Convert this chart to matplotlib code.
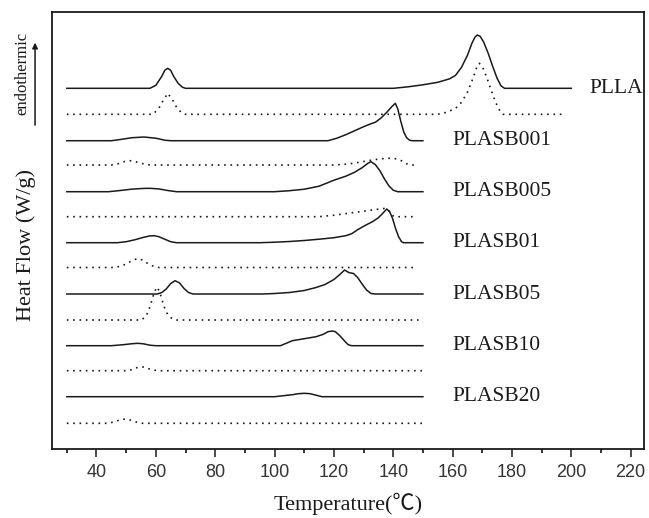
import matplotlib
matplotlib.use("Agg")
from matplotlib import pyplot as plt

# DSC traces: temperature (C) and heat flow above baseline (arb. units)
# solid = first heating, dotted = second heating
plla_T = [30, 58, 60, 62, 63, 64, 65, 66, 67.5, 69, 70, 140, 145, 150, 155, 159, 161, 163, 165,
          166.5, 167.5, 168.3, 169.3, 170.5, 172, 173.5, 175, 176.3, 177.5, 200]
plla_h = [0, 0, 0.3, 1.2, 1.8, 2.0, 1.8, 1.2, 0.5, 0.1, 0, 0, 0.15, 0.35, 0.6, 0.95, 1.3, 2.1, 3.3,
          4.5, 5.1, 5.33, 5.2, 4.6, 3.5, 2.2, 1.0, 0.25, 0, 0]
plla2_T = [30, 59, 61, 62.5, 64, 65.5, 67, 68.5, 70, 155, 158, 161, 163, 165, 167, 168, 169, 170,
           171.5, 173, 174.5, 176, 177, 198]
plla2_h = [0, 0, 0.6, 1.4, 2.1, 1.5, 0.7, 0.2, 0, 0, 0.2, 0.6, 1.2, 2.2, 3.7, 4.6, 5.1, 4.8,
           3.7, 2.4, 1.2, 0.3, 0, 0]

b001_T = [30, 45, 48, 52, 56, 60, 63, 65, 118, 121, 124, 127, 130, 132.5, 134, 136, 138, 139.5,
          140.7, 141.5, 142.5, 143.5, 144.5, 145.5, 146.5, 150]
b001_h = [0, 0, 0.12, 0.3, 0.37, 0.25, 0.05, 0, 0, 0.25, 0.6, 1.0, 1.4, 1.7, 1.85, 2.3, 2.9, 3.4,
          3.74, 3.2, 2.0, 0.9, 0.3, 0.05, 0, 0]
b001_2_T = [30, 45, 47, 49.5, 51.5, 53.5, 56, 58, 120, 125, 130, 134, 137.5, 140, 142, 143.5, 145, 146, 148]
b001_2_h = [0, 0, 0.1, 0.35, 0.43, 0.3, 0.1, 0, 0, 0.1, 0.35, 0.55, 0.67, 0.67, 0.55, 0.3, 0.05, 0, 0]

b005_T = [30, 44, 48, 52, 56, 58, 61, 64, 67, 100, 105, 110, 115, 120, 124, 127, 129.5, 131.5,
          132.5, 134, 135.5, 137, 138.5, 140, 141.5, 150]
b005_h = [0, 0, 0.12, 0.26, 0.33, 0.34, 0.28, 0.12, 0, 0, 0.1, 0.25, 0.55, 1.15, 1.55, 1.95, 2.4, 2.85,
          3.0, 2.7, 2.1, 1.3, 0.6, 0.15, 0, 0]
b005_2_T = [30, 115, 120, 125, 130, 134, 137.5, 138.5, 139.5, 140.5, 148]
b005_2_h = [0, 0, 0.15, 0.35, 0.55, 0.72, 0.84, 0.6, 0.15, 0, 0]

b01_T = [30, 47, 50, 53, 56, 58, 59.5, 61, 63, 65, 67, 95, 100, 105, 110, 115, 120, 124, 126, 128,
         130.8, 133, 135, 136.5, 137.8, 138.8, 139.8, 140.8, 141.8, 142.8, 143.5, 150]
b01_h = [0, 0, 0.1, 0.3, 0.55, 0.68, 0.7, 0.6, 0.35, 0.1, 0, 0, 0.05, 0.12, 0.22, 0.35, 0.5, 0.7, 0.9, 1.3,
         1.77, 2.1, 2.5, 2.95, 3.37, 3.1, 2.4, 1.4, 0.6, 0.1, 0, 0]
b01_2_T = [30, 46, 48, 50, 52, 53.9, 55.5, 57, 59, 61, 148]
b01_2_h = [0, 0, 0.12, 0.35, 0.7, 0.9, 0.75, 0.45, 0.15, 0, 0]

b05_T = [30, 60.5, 62, 63.5, 65, 66.5, 68, 69.5, 71, 72.5, 96, 100, 105, 110, 114, 117, 120, 122,
         123.6, 125, 126.6, 128, 129.5, 131, 132.5, 134, 150]
b05_h = [0, 0, 0.15, 0.5, 1.05, 1.33, 1.1, 0.55, 0.15, 0, 0, 0.05, 0.15, 0.35, 0.65, 0.95, 1.45, 1.95,
         2.4, 2.15, 2.05, 1.65, 1.0, 0.4, 0.05, 0, 0]
b05_2_T = [30, 55, 56.5, 57.5, 58.5, 59.5, 60.4, 61.3, 62.3, 63.3, 64.5, 66, 67, 150]
b05_2_h = [0, 0, 0.3, 0.9, 1.8, 2.8, 3.3, 2.8, 1.8, 0.9, 0.35, 0.05, 0, 0]

b10_T = [30, 45, 49, 52, 54, 56, 58, 60, 102, 104, 106, 110, 114, 116.5, 118, 119.5, 120.5, 122,
         123.5, 124.8, 126, 150]
b10_h = [0, 0, 0.1, 0.2, 0.24, 0.18, 0.05, 0, 0, 0.25, 0.5, 0.7, 0.9, 1.15, 1.4, 1.47, 1.4, 1.0,
         0.5, 0.1, 0, 0]
b10_2_T = [30, 50, 52, 54, 55.3, 57, 59, 61, 150]
b10_2_h = [0, 0, 0.1, 0.35, 0.4, 0.25, 0.07, 0, 0]

b20_T = [30, 100, 103, 106, 108, 110, 112, 114, 116, 150]
b20_h = [0, 0, 0.1, 0.2, 0.3, 0.34, 0.3, 0.15, 0, 0]
b20_2_T = [30, 44, 46, 48, 49.7, 51.5, 53.5, 55.5, 150]
b20_2_h = [0, 0, 0.15, 0.35, 0.43, 0.32, 0.12, 0, 0]

names = ['PLLA', 'PLASB001', 'PLASB005', 'PLASB01', 'PLASB05', 'PLASB10', 'PLASB20']
first_T = [plla_T, b001_T, b005_T, b01_T, b05_T, b10_T, b20_T]
first_h = [plla_h, b001_h, b005_h, b01_h, b05_h, b10_h, b20_h]
second_T = [plla2_T, b001_2_T, b005_2_T, b01_2_T, b05_2_T, b10_2_T, b20_2_T]
second_h = [plla2_h, b001_2_h, b005_2_h, b01_2_h, b05_2_h, b10_2_h, b20_2_h]
# vertical offsets of the stacked traces
offset1 = [36.07, 30.83, 25.73, 20.63, 15.5, 10.33, 5.23]
offset2 = [33.47, 28.4, 23.23, 18.15, 12.9, 7.83, 2.57]
label_T = [206, 160, 160, 160, 160, 160, 160]

serif = ['Liberation Serif', 'Noto Sans CJK SC', 'DejaVu Serif']
ink = '#1a1a1a'

fig = plt.figure(figsize=(6.49, 5.18), dpi=100)
ax = fig.add_axes([0.0801, 0.1332, 0.9122, 0.8436])

for i in range(len(names)):
    y1 = [offset1[i] + v for v in first_h[i]]
    y2 = [offset2[i] + v for v in second_h[i]]
    ax.plot(first_T[i], y1, color=ink, lw=1.1)
    ax.plot(second_T[i], y2, color=ink, lw=1.2, linestyle=(0, (1, 2.8)))
    ax.text(label_T[i], offset1[i], names[i], fontsize=15.5, family=serif,
            va='center', ha='left', color=ink)

ax.set_xlim(25, 224.5)
ax.set_ylim(0, 43.7)
ax.set_xticks(range(40, 221, 20))
ax.set_xticks(range(30, 221, 20), minor=True)
ax.set_yticks([])
ax.tick_params(axis='x', which='major', direction='out', length=6, width=1.1,
               labelsize=13, pad=5, colors=ink)
ax.tick_params(axis='x', which='minor', direction='out', length=3, width=1.1)
for lab in ax.get_xticklabels():
    lab.set_family('Liberation Sans')
    lab.set_color('#333333')
for s in ax.spines.values():
    s.set_linewidth(1.3)
    s.set_color(ink)

ax.set_xlabel('Temperature(\u2103)', fontsize=16, family=serif, labelpad=8, color=ink)
fig.text(0.04, 0.527, 'Heat Flow (W/g)', rotation=90, fontsize=16, family=serif,
         ha='center', va='center', color=ink)
fig.text(0.035, 0.859, 'endothermic', rotation=90, fontsize=12, family=serif,
         ha='center', va='center', color=ink)
fig.add_artist(matplotlib.patches.FancyArrowPatch((0.054, 0.753), (0.054, 0.923),
               transform=fig.transFigure, arrowstyle='-|>', mutation_scale=8,
               lw=1.1, color=ink))

fig.savefig('out.png', dpi=100)
